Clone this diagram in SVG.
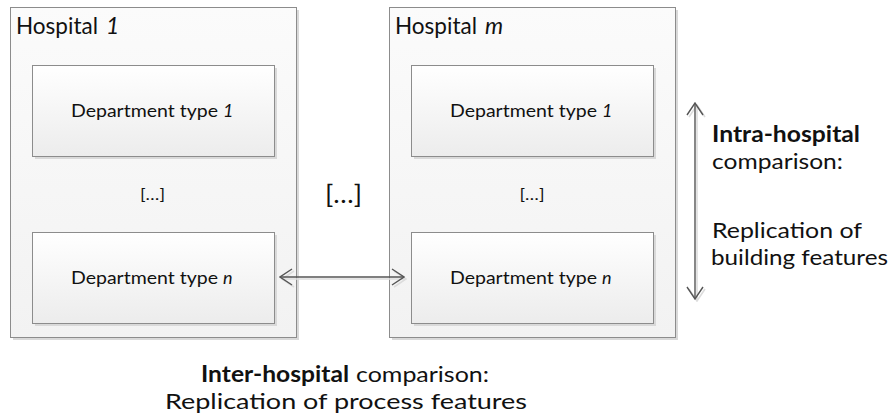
<svg xmlns="http://www.w3.org/2000/svg" width="894" height="416" viewBox="0 0 894 416">
  <defs>
    <linearGradient id="gHosp" x1="0" y1="0" x2="0" y2="1">
      <stop offset="0" stop-color="#fbfbfb"/>
      <stop offset="1" stop-color="#f2f2f2"/>
    </linearGradient>
    <linearGradient id="gDept" x1="0" y1="0" x2="0" y2="1">
      <stop offset="0" stop-color="#ffffff"/>
      <stop offset="1" stop-color="#ececec"/>
    </linearGradient>
    <marker id="chev" viewBox="0 0 14 18" refX="13" refY="9" markerWidth="14" markerHeight="18" markerUnits="userSpaceOnUse" orient="auto-start-reverse">
      <path d="M1,1 L13,9 L1,17" fill="none" stroke="#555" stroke-width="1.4"/>
    </marker>
    <marker id="chevShadow" viewBox="0 0 14 18" refX="13" refY="9" markerWidth="14" markerHeight="18" markerUnits="userSpaceOnUse" orient="auto-start-reverse">
      <path d="M1,1 L13,9 L1,17" fill="none" stroke="#dcdcdc" stroke-width="1.6"/>
    </marker>
  </defs>
  <style>
    text { font-family: "Lato", "Open Sans", "Liberation Sans", sans-serif; fill: #111; }
    .hosp { fill: url(#gHosp); stroke: #8c8c8c; stroke-width: 1; }
    .dept { fill: url(#gDept); stroke: #8c8c8c; stroke-width: 1; }
    .shadow { fill: #d9d9d9; }
    .title { font-size: 23px; }
    .label { font-size: 18px; }
    .it { font-style: italic; }
    .b { font-weight: bold; }
    .dots { font-size: 16px; text-anchor: middle; }
    .note { font-size: 22px; }
    .conn { stroke: #555; stroke-width: 1.4; fill: none; }
    .connShadow { stroke: #dcdcdc; stroke-width: 1.6; fill: none; }
  </style>

  <!-- Hospital 1 -->
  <g id="hospital-1">
    <rect class="shadow" x="13" y="10" width="286" height="330"/>
    <rect class="hosp" x="10.5" y="7.5" width="286" height="330"/>
    <text class="title" x="16" y="34" textLength="82" lengthAdjust="spacingAndGlyphs">Hospital</text>
    <text class="title it" x="106" y="34">1</text>
  </g>
  <g id="h1-dept-1">
    <rect class="shadow" x="35" y="68" width="242" height="91"/>
    <rect class="dept" x="32.5" y="65.5" width="242" height="91"/>
    <text class="label" x="71" y="117" textLength="147" lengthAdjust="spacingAndGlyphs">Department type</text>
    <text class="label it" x="223" y="117">1</text>
  </g>
  <text class="dots" x="152.5" y="200" textLength="25" lengthAdjust="spacingAndGlyphs">[…]</text>
  <g id="h1-dept-n">
    <rect class="shadow" x="35" y="235" width="242" height="91"/>
    <rect class="dept" x="32.5" y="232.5" width="242" height="91"/>
    <text class="label" x="71" y="284" textLength="147" lengthAdjust="spacingAndGlyphs">Department type</text>
    <text class="label it" x="223" y="284">n</text>
  </g>

  <!-- ellipsis between hospitals -->
  <text x="343.5" y="203" font-size="25" text-anchor="middle" textLength="37" lengthAdjust="spacingAndGlyphs">[…]</text>

  <!-- Hospital m -->
  <g id="hospital-m">
    <rect class="shadow" x="392" y="10" width="286" height="330"/>
    <rect class="hosp" x="389.5" y="7.5" width="286" height="330"/>
    <text class="title" x="395" y="34" textLength="82" lengthAdjust="spacingAndGlyphs">Hospital</text>
    <text class="title it" x="485" y="34">m</text>
  </g>
  <g id="hm-dept-1">
    <rect class="shadow" x="414" y="68" width="242" height="91"/>
    <rect class="dept" x="411.5" y="65.5" width="242" height="91"/>
    <text class="label" x="450" y="117" textLength="147" lengthAdjust="spacingAndGlyphs">Department type</text>
    <text class="label it" x="602" y="117">1</text>
  </g>
  <text class="dots" x="532" y="200" textLength="25" lengthAdjust="spacingAndGlyphs">[…]</text>
  <g id="hm-dept-n">
    <rect class="shadow" x="414" y="235" width="242" height="91"/>
    <rect class="dept" x="411.5" y="232.5" width="242" height="91"/>
    <text class="label" x="450" y="284" textLength="147" lengthAdjust="spacingAndGlyphs">Department type</text>
    <text class="label it" x="602" y="284">n</text>
  </g>

  <!-- connectors -->
  <g id="connectors">
    <line class="connShadow" x1="282" y1="279" x2="406" y2="279" marker-start="url(#chevShadow)" marker-end="url(#chevShadow)"/>
    <line class="conn" x1="280" y1="277" x2="404" y2="277" marker-start="url(#chev)" marker-end="url(#chev)"/>
    <line class="connShadow" x1="697" y1="105" x2="697" y2="301" marker-start="url(#chevShadow)" marker-end="url(#chevShadow)"/>
    <line class="conn" x1="695" y1="103" x2="695" y2="299" marker-start="url(#chev)" marker-end="url(#chev)"/>
  </g>

  <!-- comparison notes -->
  <text class="note b" x="712" y="142" textLength="148" lengthAdjust="spacingAndGlyphs">Intra-hospital</text>
  <text class="note" x="712" y="169" textLength="131" lengthAdjust="spacingAndGlyphs">comparison:</text>
  <text class="note" x="712" y="238" textLength="150" lengthAdjust="spacingAndGlyphs">Replication of</text>
  <text class="note" x="711" y="265" textLength="177" lengthAdjust="spacingAndGlyphs">building features</text>

  <text class="note b" x="201" y="382" textLength="148" lengthAdjust="spacingAndGlyphs">Inter-hospital</text>
  <text class="note" x="356" y="382" textLength="133" lengthAdjust="spacingAndGlyphs">comparison:</text>
  <text class="note" x="165" y="409" textLength="362" lengthAdjust="spacingAndGlyphs">Replication of process features</text>
</svg>
